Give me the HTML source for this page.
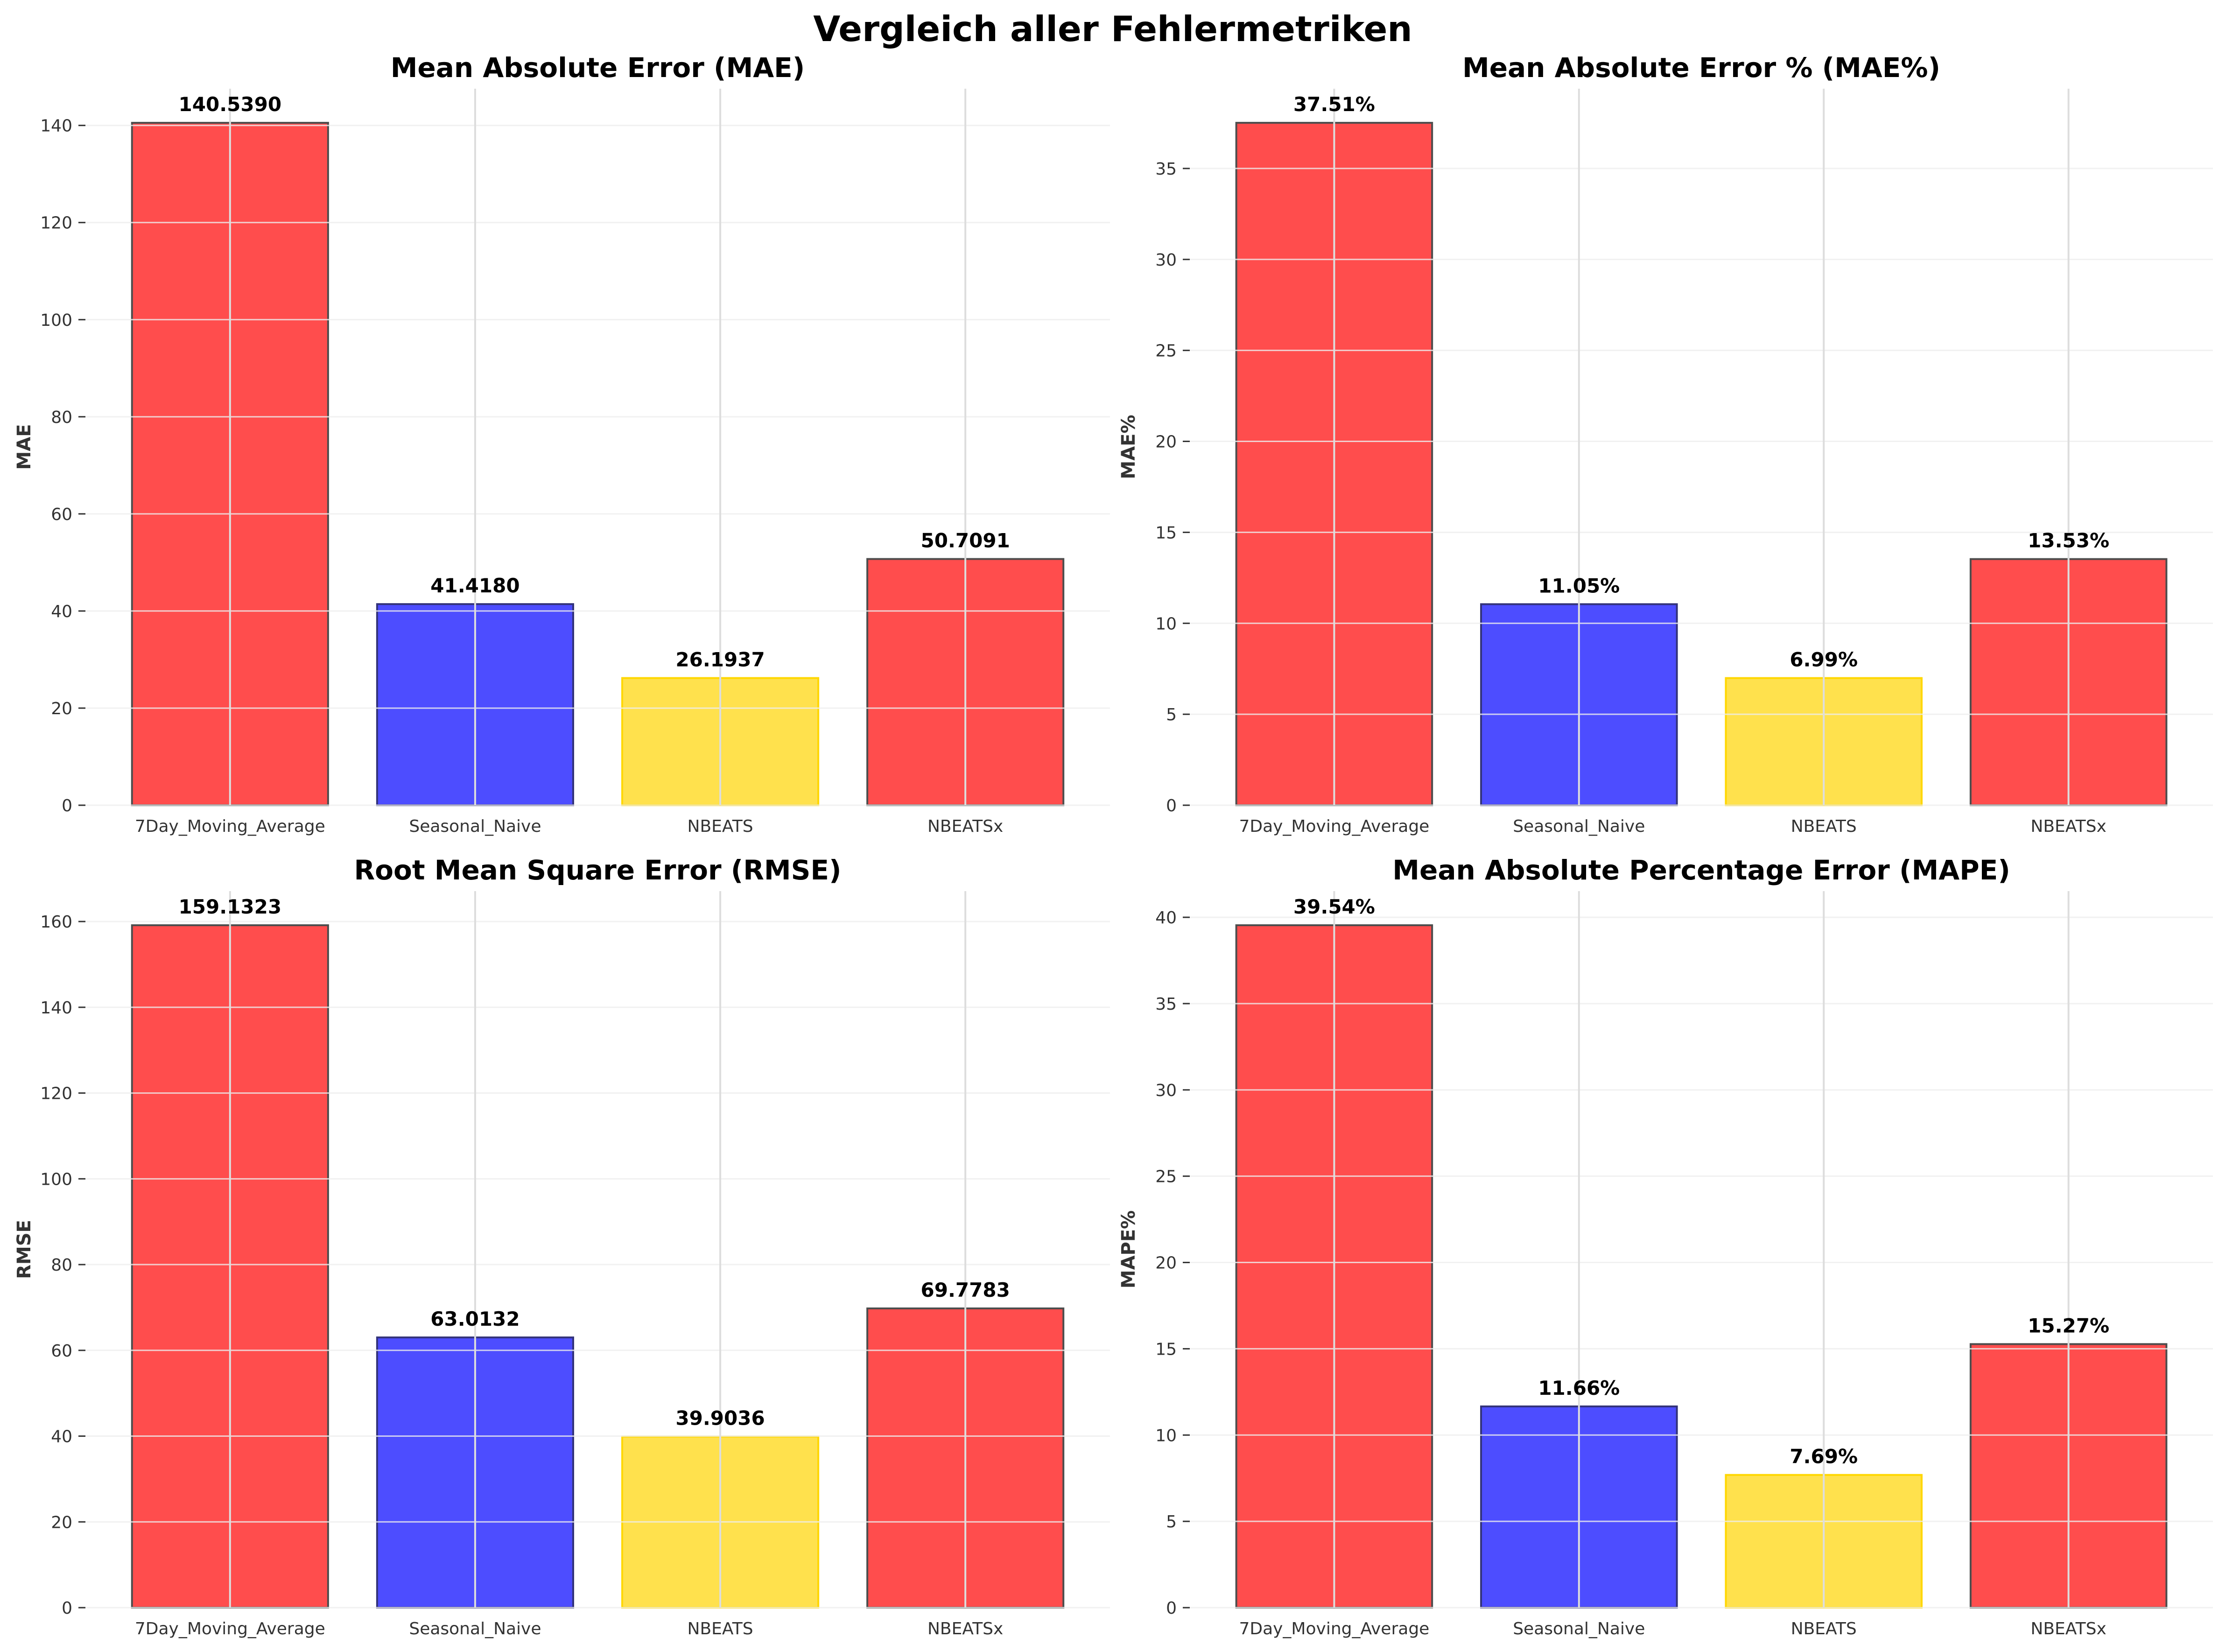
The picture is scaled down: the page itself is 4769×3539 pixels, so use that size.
<!DOCTYPE html>
<html><head><meta charset="utf-8"><style>
html,body{margin:0;padding:0;background:#fff;}
svg{display:block;font-family:"DejaVu Sans","Liberation Sans",sans-serif;}
</style></head><body>
<svg id="fig" width="4769" height="3539" viewBox="0 0 4769 3539" xmlns="http://www.w3.org/2000/svg">
<rect width="4769" height="3539" fill="#fff"/>
<text x="2384" y="88" text-anchor="middle" font-size="75" font-weight="bold" fill="#000">Vergleich aller Fehlermetriken</text>
</svg>
<script>
const categories = ["7Day_Moving_Average","Seasonal_Naive","NBEATS","NBEATSx"];
const maeValues = [140.5390, 41.4180, 26.1937, 50.7091];
const maePctValues = [37.51, 11.05, 6.99, 13.53];
const rmseValues = [159.1323, 63.0132, 39.9036, 69.7783];
const mapeValues = [39.54, 11.66, 7.69, 15.27];
const maeTicks = [0,20,40,60,80,100,120,140];
const maePctTicks = [0,5,10,15,20,25,30,35];
const rmseTicks = [0,20,40,60,80,100,120,140,160];
const mapeTicks = [0,5,10,15,20,25,30,35,40];
const panelTitles = ["Mean Absolute Error (MAE)","Mean Absolute Error % (MAE%)","Root Mean Square Error (RMSE)","Mean Absolute Percentage Error (MAPE)"];
const yLabels = ["MAE","MAE%","RMSE","MAPE%"];
const fills = ["#ff4d4d","#4d4dff","#ffe14d","#ff4d4d"];
const strokes = ["#4d4d4d","#33337a","#ffd700","#4d4d4d"];

const NS = "http://www.w3.org/2000/svg";
const svg = document.getElementById('fig');
function mk(tag, attrs, parent){
  const e = document.createElementNS(NS, tag);
  for (const k in attrs) e.setAttribute(k, attrs[k]);
  (parent||svg).appendChild(e);
  return e;
}
const panels = [
  {vals: maeValues, ticks: maeTicks, fmt: v=>v.toFixed(4), l:183, r:2378, t:190, b:1725, slug:'mae'},
  {vals: maePctValues, ticks: maePctTicks, fmt: v=>v.toFixed(2)+'%', l:2549, r:4741, t:190, b:1725, slug:'mae-pct'},
  {vals: rmseValues, ticks: rmseTicks, fmt: v=>v.toFixed(4), l:183, r:2378, t:1909, b:3444, slug:'rmse'},
  {vals: mapeValues, ticks: mapeTicks, fmt: v=>v.toFixed(2)+'%', l:2549, r:4741, t:1909, b:3444, slug:'mape'}
];
panels.forEach((p, pi) => {
  const g = mk('g', {});
  
  
  const ymax = Math.max(...p.vals) * 1.05;
  const y = v => p.b - v / ymax * (p.b - p.t);
  const xmin = -0.59, xmax = categories.length - 1 + 0.59;
  const x = i => p.l + (i - xmin) / (xmax - xmin) * (p.r - p.l);
  const step = x(1) - x(0);
  const bw = step * 0.8;
  p.vals.forEach((v, i) => {
    const bar = mk('rect', {x: x(i)-bw/2, y: y(v), width: bw, height: p.b - y(v), fill: fills[i], stroke: strokes[i], 'stroke-width': 4}, g);
    
    
  });
  p.ticks.forEach(tv => {
    const gl = mk('line', {x1: p.l, x2: p.r, y1: y(tv), y2: y(tv), stroke: '#eeeeee', 'stroke-opacity': 0.8, 'stroke-width': 3}, g);
    
    
    const tk = mk('line', {x1: p.l-15, x2: p.l, y1: y(tv), y2: y(tv), stroke: '#333', 'stroke-width': 3}, g);
    
    
    const tl = mk('text', {x: p.l-28, y: y(tv)+13, 'text-anchor': 'end', 'font-size': 36, fill: '#333'}, g);
    tl.textContent = tv;
    
    
  });
  categories.forEach((c, i) => {
    const vl = mk('line', {x1: x(i), x2: x(i), y1: p.t, y2: p.b, stroke: '#dddddd', 'stroke-width': 4}, g);
    
    
    const xl = mk('text', {x: x(i), y: p.b + 57, 'text-anchor': 'middle', 'font-size': 36, fill: '#333'}, g);
    xl.textContent = c;
    
    
    const lab = mk('text', {x: x(i), y: y(p.vals[i]) - 25, 'text-anchor': 'middle', 'font-size': 42, 'font-weight': 'bold', fill: '#000'}, g);
    lab.textContent = p.fmt(p.vals[i]);
    
    
  });
  const title = mk('text', {x: (p.l+p.r)/2, y: p.t - 25, 'text-anchor': 'middle', 'font-size': 58, 'font-weight': 'bold', fill: '#000'}, g);
  title.textContent = panelTitles[pi];
  
  
  const yl = mk('text', {x: 0, y: 0, transform: 'translate(' + (p.l-118) + ',' + ((p.t+p.b)/2) + ') rotate(-90)', 'text-anchor': 'middle', 'font-size': 40, 'font-weight': 'bold', fill: '#333'}, g);
  yl.textContent = yLabels[pi];
  
  
});
</script>
</body></html>
